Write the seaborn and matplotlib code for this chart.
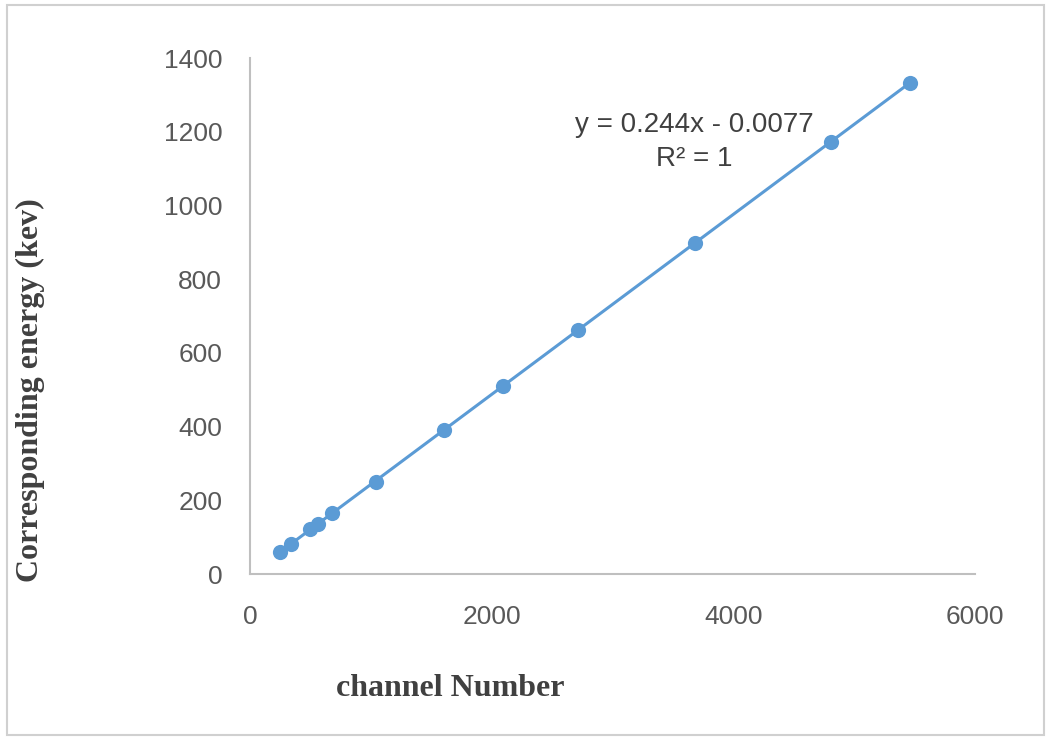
import numpy as np
import pandas as pd
import seaborn as sns
import matplotlib.pyplot as plt
from matplotlib.patches import Rectangle

# calibration points
channel = [245, 340, 500, 560, 680, 1045, 1605, 2095, 2712, 3680, 4808, 5459]
energy = [59.5, 81, 122, 136, 166, 250, 392, 511, 662, 898, 1173, 1332]
xticks = [0, 2000, 4000, 6000]
yticks = [0, 200, 400, 600, 800, 1000, 1200, 1400]

df = pd.DataFrame({"channel": channel, "energy": energy})

sns.set_style("white")
plt.rcParams['font.family'] = ['Liberation Sans', 'DejaVu Sans']

fig = plt.figure(figsize=(10.47, 7.38), dpi=100)
ax = fig.add_axes([0.2388, 0.2222, 0.6925, 0.6992])

blue = "#5B9BD5"
sns.regplot(data=df, x="channel", y="energy", ax=ax, ci=None,
            color=blue, scatter_kws={"s": 120, "alpha": 1, "linewidths": 0},
            line_kws={"lw": 2.2})

ax.set_xlim(0, 6000)
ax.set_ylim(0, 1400)
ax.set_xticks(xticks)
ax.set_yticks(yticks)
ax.tick_params(length=0, labelsize=19, labelcolor="#595959")
ax.tick_params(axis="y", pad=20)
ax.tick_params(axis="x", pad=22)
ax.set_xlabel("")
ax.set_ylabel("")

for s in ["top", "right"]:
    ax.spines[s].set_visible(False)
for s in ["left", "bottom"]:
    ax.spines[s].set_color("#bfbfbf")
    ax.spines[s].set_linewidth(1.5)

# equation box text
ax.text(3674, 1172, "y = 0.244x - 0.0077\nR\u00b2 = 1", ha="center", va="center",
        fontsize=20, color="#404040", linespacing=1.38)

fig.text(450 / 1047, 1 - 688 / 738, "channel Number", ha="center", va="center",
         fontsize=23, fontweight="bold", color="#404040",
         family=["Liberation Serif", "DejaVu Serif"])
fig.text(30 / 1047, 1 - 390 / 738, "Corresponding energy (kev)", ha="center",
         va="center", rotation=90, fontsize=23, fontweight="bold",
         color="#404040", family=["Liberation Serif", "DejaVu Serif"])

# outer chart border
fig.patches.append(Rectangle((0.007, 0.004), 0.99, 0.989, transform=fig.transFigure,
                             fill=False, edgecolor="#d0d0d0", lw=1.5))

plt.savefig("out.png", dpi=100)
